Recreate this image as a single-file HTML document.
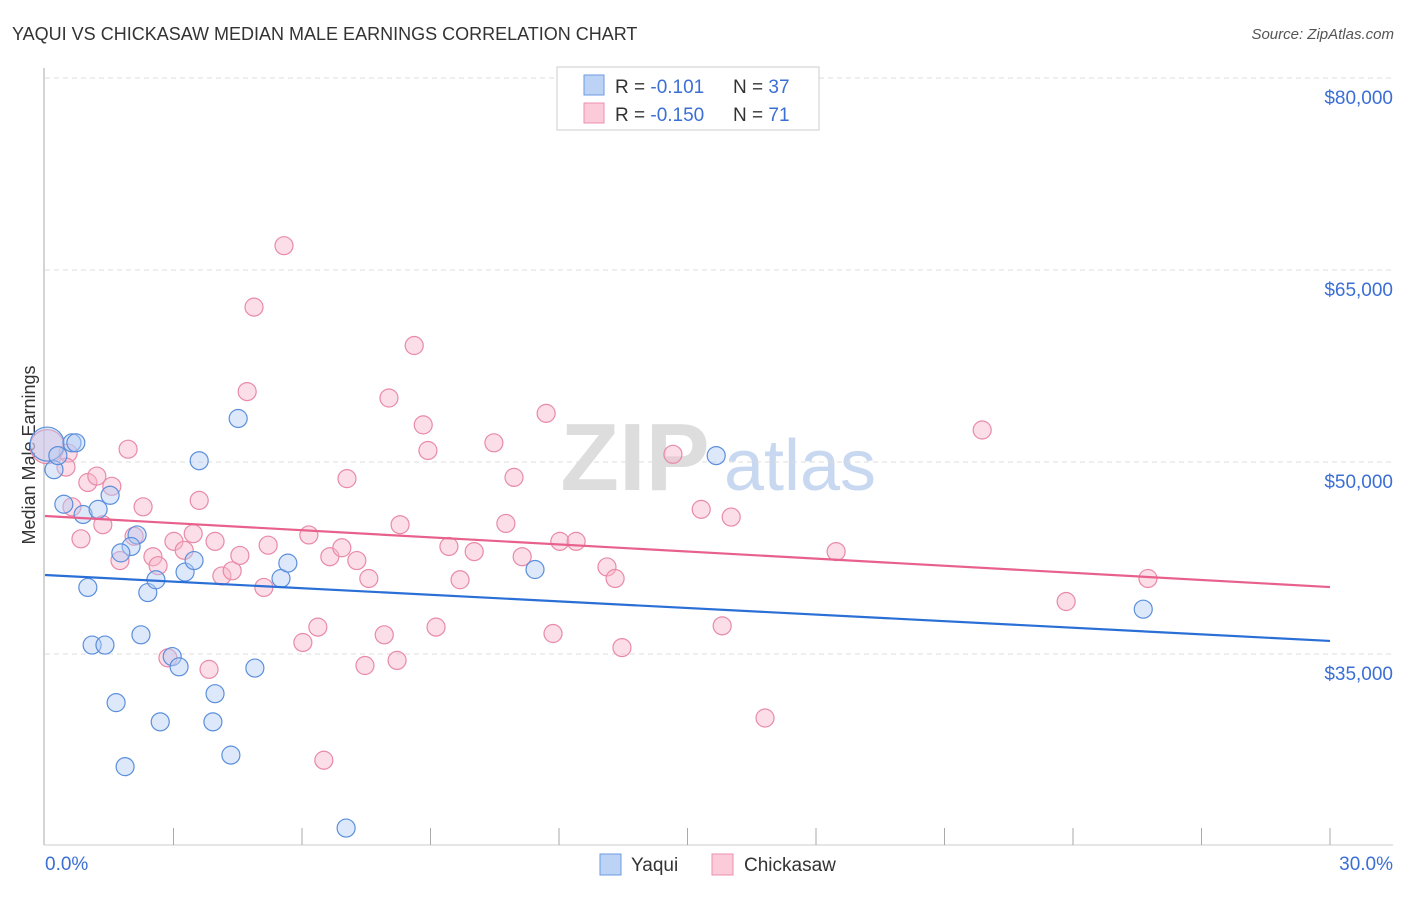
<!DOCTYPE html>
<html><head><meta charset="utf-8"><style>
body{margin:0;background:#fff;font-family:"Liberation Sans",sans-serif}
svg text{font-family:"Liberation Sans",sans-serif}
</style></head><body>
<svg id="c" width="1406" height="892" xmlns="http://www.w3.org/2000/svg">
<text x="12" y="40" font-size="18" fill="#333">YAQUI VS CHICKASAW MEDIAN MALE EARNINGS CORRELATION CHART</text>
<text x="1394" y="39" font-size="15" fill="#555" font-style="italic" text-anchor="end">Source: ZipAtlas.com</text>
<g>
<text x="635" y="490" font-size="96" fill="#ddd" font-family="Liberation Serif" text-anchor="middle" font-weight="bold">ZIP</text>
<text x="800" y="490" font-size="72" fill="#c8d8f0" text-anchor="middle">atlas</text>
</g>
<g id="grid"></g>
<g id="axes"></g>
<text x="35" y="455" font-size="18" fill="#333" text-anchor="middle" transform="rotate(-90 35 455)">Median Male Earnings</text>
<g id="pts"></g>
<g id="trend"></g>
<g>
<rect x="557" y="67" width="262" height="63" fill="#fff" stroke="#ccc"/>
<rect x="584" y="75" width="20" height="20" fill="#bcd3f5" stroke="#6a9be0"/>
<rect x="584" y="103" width="20" height="20" fill="#fbcbd9" stroke="#ec8fac"/>
<text x="615" y="93" font-size="19" fill="#333">R = <tspan fill="#3b6fd4">-0.101</tspan><tspan x="733">N = </tspan><tspan fill="#3b6fd4">37</tspan></text>
<text x="615" y="121" font-size="19" fill="#333">R = <tspan fill="#3b6fd4">-0.150</tspan><tspan x="733">N = </tspan><tspan fill="#3b6fd4"> 71</tspan></text>
</g>
<g>
<rect x="600" y="854" width="21" height="21" fill="#bcd3f5" stroke="#6a9be0"/>
<text x="631" y="871" font-size="19" fill="#333">Yaqui</text>
<rect x="712" y="854" width="21" height="21" fill="#fbcbd9" stroke="#ec8fac"/>
<text x="744" y="871" font-size="19" fill="#333">Chickasaw</text>
</g>
</svg>
<script>
const yTicks=[80000,65000,50000,35000];
const yTickLabels=["$80,000","$65,000","$50,000","$35,000"];
const xTickLabels=["0.0%","30.0%"];
const yaquiX=[0.05,0.63,0.72,0.21,0.30,0.44,0.89,1.24,1.52,1.00,1.10,1.40,1.66,1.87,2.24,2.15,2.01,1.77,2.40,2.59,2.69,2.97,3.13,3.27,3.48,3.60,3.92,3.97,4.34,4.51,4.90,5.51,5.67,7.03,11.44,15.67,25.64];
const yaquiY=[51.4,51.5,51.5,49.4,50.5,46.7,45.9,46.3,47.4,40.2,35.7,35.7,31.2,26.2,36.5,44.3,43.4,42.9,39.8,40.8,29.7,34.8,34.0,41.4,42.3,50.1,29.7,31.9,27.1,53.4,33.9,40.9,42.1,21.4,41.6,50.5,38.5];
const chickX=[0.05,0.54,0.49,0.63,0.84,1.00,1.21,1.35,1.56,1.75,1.94,2.08,2.29,2.52,2.64,2.87,3.01,3.25,3.46,3.60,3.83,3.97,4.13,4.37,4.55,4.72,4.88,5.11,5.21,5.58,6.02,6.16,6.37,6.51,6.65,6.93,7.05,7.28,7.47,7.56,7.92,8.03,8.22,8.29,8.62,8.83,8.94,9.13,9.43,9.69,10.02,10.48,10.76,10.95,11.14,11.70,11.86,12.02,12.40,13.12,13.31,13.47,14.66,15.32,15.81,16.02,16.81,18.47,21.88,23.84,25.75];
const chickY=[51.2,50.7,49.6,46.5,44.0,48.4,48.9,45.1,48.1,42.3,51.0,44.2,46.5,42.6,41.9,34.7,43.8,43.1,44.4,47.0,33.8,43.8,41.1,41.5,42.7,55.5,62.1,40.2,43.5,66.9,35.9,44.3,37.1,26.7,42.6,43.3,48.7,42.3,34.1,40.9,36.5,55.0,34.5,45.1,59.1,52.9,50.9,37.1,43.4,40.8,43.0,51.5,45.2,48.8,42.6,53.8,36.6,43.8,43.8,41.8,40.9,35.5,50.6,46.3,37.2,45.7,30.0,43.0,52.5,39.1,40.9];
const yaquiTrend=[41.17,36.02];
const chickTrend=[45.78,40.23];
const NS="http://www.w3.org/2000/svg";
const X=p=>45+p*(1330-45)/30;
const Y=v=>78+(80000-v)*192/15000;
const Yk=k=>Y(k*1000);
function mk(t,a,parent){const e=document.createElementNS(NS,t);for(const k in a)e.setAttribute(k,a[k]);parent.appendChild(e);return e;}
const grid=document.getElementById('grid'),axes=document.getElementById('axes');
yTicks.forEach((v,i)=>{
 const l=mk('line',{x1:45,x2:1393,y1:Y(v),y2:Y(v),stroke:'#ddd','stroke-dasharray':'5,4'},grid);
 
 
 const t=mk('text',{x:1393,y:Y(v)+26,'font-size':19,fill:'#3b6fd4','text-anchor':'end'},grid);
 t.textContent=yTickLabels[i];
 
 
});
let ya=mk('line',{x1:44,x2:44,y1:68,y2:845,stroke:'#aaa'},axes);


let xa=mk('line',{x1:44,x2:1393,y1:845,y2:845,stroke:'#ccc'},axes);


for(let i=1;i<=10;i++){const tk=mk('line',{x1:X(i*3),x2:X(i*3),y1:828,y2:845,stroke:'#aaa'},axes);
 
 }
let xl0=mk('text',{x:45,y:870,'font-size':19,fill:'#3b6fd4'},axes);xl0.textContent=xTickLabels[0];


let xl1=mk('text',{x:1393,y:870,'font-size':19,fill:'#3b6fd4','text-anchor':'end'},axes);xl1.textContent=xTickLabels[1];


const pts=document.getElementById('pts');
function draw(xs,ys,fill,stroke,name){xs.forEach((x,i)=>{
 const c=mk('circle',{cx:X(x),cy:Yk(ys[i]),r:i===0?17:9,fill:fill,'fill-opacity':0.45,stroke:stroke,'stroke-width':1.2},pts);
 
 
});}
draw(chickX,chickY,'#f7b6c9','#e98aa8','chickasaw-point');
draw(yaquiX,yaquiY,'#b3cdf3','#5b8fdc','yaqui-point');
const tr=document.getElementById('trend');
let t1=mk('line',{x1:X(0),x2:X(30),y1:Yk(chickTrend[0]),y2:Yk(chickTrend[1]),stroke:'#e8608c','stroke-width':2.2},tr);


let t2=mk('line',{x1:X(0),x2:X(30),y1:Yk(yaquiTrend[0]),y2:Yk(yaquiTrend[1]),stroke:'#2a6fd6','stroke-width':2.2},tr);


</script>
</body></html>
